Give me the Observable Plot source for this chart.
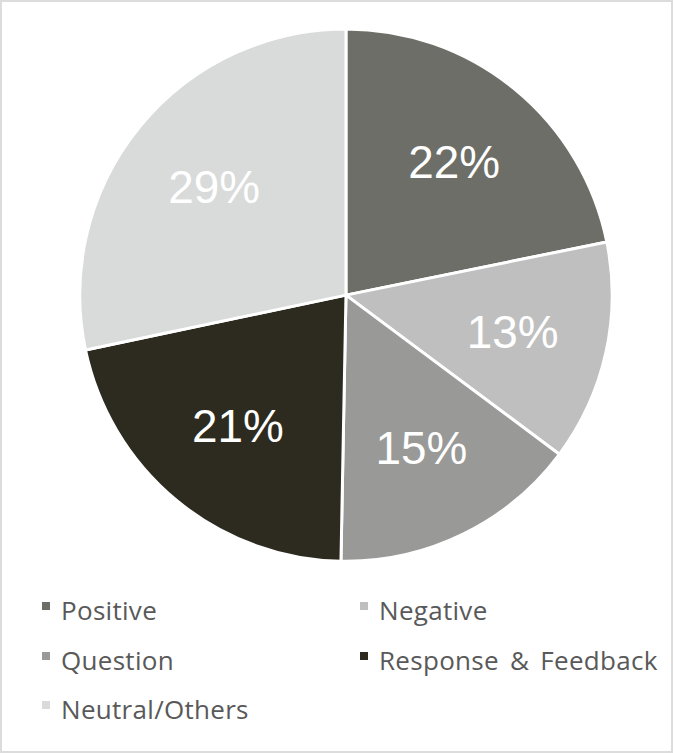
<!DOCTYPE html>
<html>
<head>
<meta charset="utf-8">
<script src="https://cdn.jsdelivr.net/npm/d3@7"></script>
<script src="https://cdn.jsdelivr.net/npm/@observablehq/plot@0.6"></script>
<style>
  html, body { margin: 0; padding: 0; background: #fff; }
  #frame { position: relative; width: 673px; height: 753px; box-sizing: border-box; border: 2px solid #dcdcdc; overflow: hidden; }
  #chart { position: absolute; left: -2px; top: -2px; }
  #legend { position: absolute; left: -2px; top: 585px; width: 673px; font-family: "Open Sans", sans-serif; font-size: 26px; letter-spacing: 0.3px; word-spacing: 4px; color: #595959; }
  .item { position: absolute; display: flex; align-items: center; white-space: nowrap; }
  .sw { width: 8px; height: 8px; margin-right: 11px; margin-top: -8px; }
</style>
</head>
<body>
<div id="frame">
  <div id="chart"></div>
  <div id="legend"></div>
</div>
<script>
const categories = ["Positive", "Negative", "Question", "Response & Feedback", "Neutral/Others"];
const values = [21.8, 13.4, 15.1, 21.4, 28.3];
const colors = ["#6d6e67", "#bfbfbf", "#999998", "#2d2a20", "#d9dada"];
const labels = ["22%", "13%", "15%", "21%", "29%"];

const data = categories.map((c, i) => ({category: c, value: values[i], label: labels[i], color: colors[i]}));
const arcs = d3.pie().value(d => d.value).sort(null)(data);
const labelR = 0.64;
const labelData = arcs.map(a => {
  const m = (a.startAngle + a.endAngle) / 2;
  return {label: a.data.label, x: labelR * Math.sin(m), y: labelR * Math.cos(m)};
});

function pieMark(index, scales, values, dims, context) {
  const {x, y} = scales;
  const cx = x(0), cy = y(0);
  const r = Math.abs(x(1) - x(0));
  const g = d3.create("svg:g").attr("transform", `translate(${cx},${cy})`);
  const arc = d3.arc().innerRadius(0).outerRadius(r);
  g.selectAll("path").data(arcs).join("path")
    .attr("d", arc)
    .attr("fill", d => d.data.color)
    .attr("stroke", "#fff")
    .attr("stroke-width", 3)
    .attr("stroke-linejoin", "round");
  return g.node();
}

const W = 673, H = 585;
const plot = Plot.plot({
  width: W, height: H,
  marginLeft: 80, marginRight: 59, marginTop: 28, marginBottom: H - 28 - 536,
  x: {domain: [-1, 1], axis: null},
  y: {domain: [-1, 1], axis: null},
  style: {background: "transparent", overflow: "visible"},
  marks: [
    pieMark,
    Plot.text(labelData, {x: "x", y: "y", text: "label", fill: "#fff", fontSize: 46, fontFamily: "Liberation Sans, Arial, sans-serif"})
  ]
});
document.getElementById("chart").appendChild(plot);

const legend = document.getElementById("legend");
const pos = [[42, 0], [360, 0], [42, 1], [360, 1], [42, 2]];
data.forEach((d, i) => {
  const it = document.createElement("div");
  it.className = "item";
  it.style.left = pos[i][0] + "px";
  it.style.top = (pos[i][1] * 49.5 + 5) + "px";
  const sw = document.createElement("span");
  sw.className = "sw";
  sw.style.background = d.color;
  const t = document.createElement("span");
  t.textContent = d.category;
  it.appendChild(sw); it.appendChild(t);
  legend.appendChild(it);
});
</script>
</body>
</html>
